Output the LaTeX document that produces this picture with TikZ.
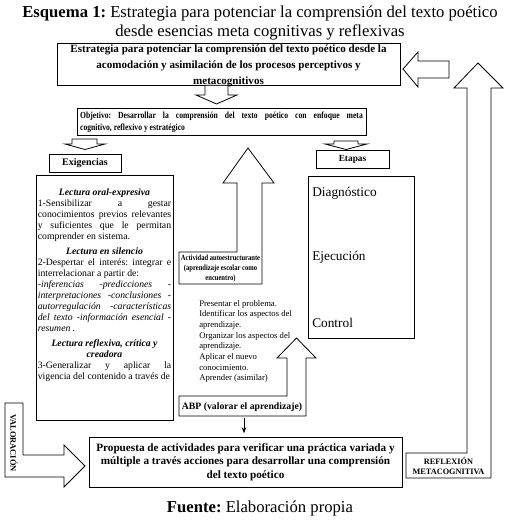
\documentclass[tikz,border=0pt]{standalone}
\usepackage{fontspec}
\usepackage{graphicx}
\setmainfont{Liberation Serif}
\newfontfamily\condfont[FakeStretch=0.82]{Liberation Serif}
\usetikzlibrary{fit,arrows.meta}
\hyphenpenalty=10000
\exhyphenpenalty=10000
\frenchspacing
\begin{document}
\begin{tikzpicture}[x=0.75pt,y=-0.75pt,
  box/.style={draw,line width=0.6pt,inner sep=0pt,fill=white},
  blockarrow/.style={draw,line width=0.6pt,fill=white,line join=miter},
  txt/.style={inner sep=0pt,align=center}]
\useasboundingbox (0,0) rectangle (520,521);
\fill[white] (0,0) rectangle (520,521);

% title
\node[txt,font=\fontsize{12.5}{14.25}\selectfont] (title) at (260,23.5)
  {\textbf{Esquema 1:} Estrategia para potenciar la comprensión del texto poético\\desde esencias meta cognitivas y reflexivas};

% right big arrow with REFLEXION box
\draw[blockarrow] (478,63)--(503,88)--(491,88)--(491,478)--(406,478)--(406,453)--(467,453)--(467,88)--(454,88)--cycle;
\node[txt,font=\fontsize{6.2}{7.5}\selectfont\bfseries] (reflex) at (448.5,466) {REFLEXIÓN\\METACOGNITIVA};

% left pointing arrow to top box
\draw[blockarrow] (403,69)--(418,52)--(418,61)--(449,61)--(449,78)--(418,78)--(418,87)--cycle;

% top box
\node[box,fit={(57,43) (400,85)}] (topbox) {};
\node[txt,font=\fontsize{8.3}{11.8}\selectfont\bfseries] (toptext) at (228.5,66)
  {Estrategia para potenciar la comprensión del texto poético desde la\\acomodación y asimilación de los procesos perceptivos y\\metacognitivos};

% down arrow to objetivo
\draw[blockarrow] (205,85.3)--(228,85.3)--(228,95)--(237,95)--(216.5,104)--(196,95)--(205,95)--cycle;

% objetivo box
\node[box,fit={(77,108) (366,135)}] (objbox) {};
\node[inner sep=0pt,text width=212pt,align=justify,font=\fontsize{7}{9}\selectfont\condfont\bfseries] (objtext) at (221.5,122)
  {Objetivo: Desarrollar la comprensión del texto poético con enfoque meta\linebreak cognitivo, reflexivo y estratégico\par};

% exigencias arrow & box
\draw[blockarrow] (72,139)--(97,139)--(97,144)--(105,144)--(85,149.5)--(65,144)--(72,144)--cycle;
\node[box,fit={(49,154) (121,172)}] (exigbox) {};
\node[txt,font=\fontsize{7.5}{9}\selectfont\bfseries] (exiglabel) at (exigbox.center) {Exigencias};

% etapas arrow & box
\draw[blockarrow] (334,141)--(358,141)--(358,144)--(367,144)--(346,149.5)--(325,144)--(334,144)--cycle;
\node[box,fit={(316,150) (389,168)}] (etapbox) {};
\node[txt,font=\fontsize{7}{9}\selectfont\bfseries] (etaplabel) at (etapbox.center) {Etapas};

% exigencias content
\node[box,fit={(36,175) (173,420)}] (exigcont) {};
\node[anchor=north,inner sep=0pt,text width=100pt,align=justify,font=\fontsize{7.3}{8.25}\selectfont] (exigtext) at (104.5,188) {%
\tolerance=10000
{\centering\textbf{\textit{Lectura oral-expresiva}}\par}
1-Sensibilizar a gestar\linebreak conocimientos previos relevantes\linebreak y suficientes que le permitan\linebreak comprender en sistema.\par
\vspace{3pt}
{\centering\textbf{\textit{Lectura en silencio}}\par}
2-Despertar el interés: integrar e\linebreak interrelacionar a partir de:\newline
\textit{-inferencias -predicciones -\linebreak interpretaciones -conclusiones -\linebreak autorregulación -características\linebreak del texto -información esencial -\linebreak resumen .}\par
\vspace{3pt}
{\centering\textbf{\textit{Lectura reflexiva, crítica y\\creadora}}\par}
3-Generalizar y aplicar la\linebreak vigencia del contenido a través de\par};

% etapas content
\node[box,fit={(308,176) (414,338)}] (etapcont) {};
\node[anchor=west,inner sep=0pt,font=\fontsize{10}{12}\selectfont] (diag) at (312,193) {Diagnóstico};
\node[anchor=west,inner sep=0pt,font=\fontsize{10}{12}\selectfont] (ejec) at (312,257) {Ejecución};
\node[anchor=west,inner sep=0pt,font=\fontsize{10}{12}\selectfont] (ctrl) at (312,323) {Control};

% actividad autoestructurante arrow
\draw[blockarrow] (179,252)--(237,252)--(237,183)--(223,183)--(248,148)--(274,183)--(262,183)--(262,284)--(179,284)--cycle;
\node[txt,font=\fontsize{6}{7.5}\selectfont\condfont\bfseries] (activ) at (220.5,269)
  {Actividad autoestructurante\\(aprendizaje escolar como\\encuentro)};

% ABP list
\node[anchor=west,inner sep=0pt,align=left,font=\fontsize{6.5}{8}\selectfont] (abplist) at (199,341.5)
  {Presentar el problema.\\Identificar los aspectos del\\aprendizaje.\\Organizar los aspectos del\\aprendizaje.\\Aplicar el nuevo\\conocimiento.\\Aprender (asimilar)};

% ABP arrow
\draw[blockarrow] (179,396)--(287,396)--(287,358)--(277,358)--(296.5,338)--(316,358)--(306,358)--(306,416)--(179,416)--cycle;
\node[txt,font=\fontsize{7.3}{9}\selectfont\bfseries] (abp) at (242,407) {ABP (valorar el aprendizaje)};

% valoracion arrow
\draw[blockarrow] (5,403)--(23,403)--(23,455)--(64,455)--(64,445)--(85,466)--(64,487)--(64,477)--(5,477)--cycle;
\node[txt,rotate=-90,font=\fontsize{6.3}{7.5}\selectfont\bfseries] (valor) at (14,443) {VALORACIÓN};

% propuesta box
\node[box,fit={(89,437) (402,487)}] (propuesta) {};
\node[txt,font=\fontsize{8.4}{10}\selectfont\bfseries] (proptext) at (propuesta.center)
  {Propuesta de actividades para verificar una práctica variada y\\múltiple a través acciones para desarrollar una comprensión\\del texto poético};

% small arrow from ABP to propuesta
\coordinate (abpout) at (244,418);
\draw[-{Stealth[length=4.5pt,width=3.5pt]},line width=0.7pt,shorten >=2.5pt] (abpout) -- (abpout |- propuesta.north);

% footer
\node[txt,font=\fontsize{12.5}{14}\selectfont] (fuente) at (260,508) {\textbf{Fuente:} Elaboración propia};
\end{tikzpicture}
\end{document}
